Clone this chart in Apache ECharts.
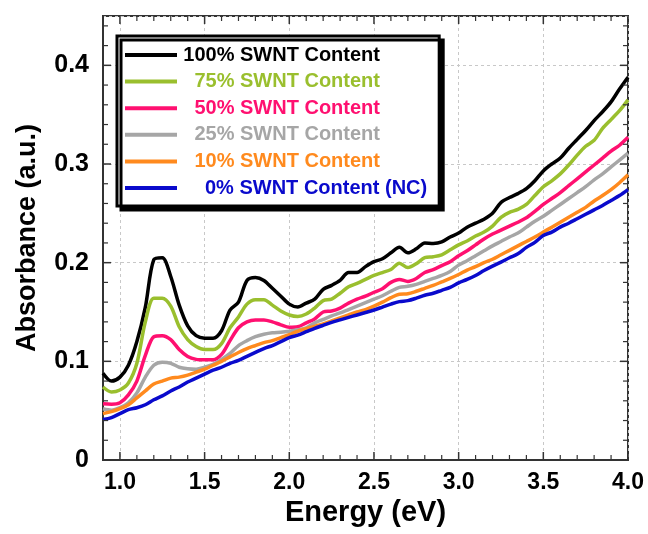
<!DOCTYPE html>
<html>
<head>
<meta charset="utf-8">
<script src="https://cdn.jsdelivr.net/npm/echarts@6/dist/echarts.min.js"></script>
<style>
  html, body { margin: 0; padding: 0; background: #fff; }
  #chart { width: 648px; height: 534px; }
</style>
</head>
<body>
<div id="chart"></div>
<script>
// photon energy (eV), shared by every curve
const energy = [
  0.90, 0.95, 1.00, 1.05, 1.10, 1.15, 1.20, 1.25, 1.30, 1.35,
  1.40, 1.45, 1.50, 1.55, 1.60, 1.65, 1.70, 1.75, 1.80, 1.85,
  1.90, 1.95, 2.00, 2.05, 2.10, 2.15, 2.20, 2.25, 2.30, 2.35,
  2.40, 2.45, 2.50, 2.55, 2.60, 2.65, 2.70, 2.75, 2.80, 2.85,
  2.90, 2.95, 3.00, 3.05, 3.10, 3.15, 3.20, 3.25, 3.30, 3.35,
  3.40, 3.45, 3.50, 3.55, 3.60, 3.65, 3.70, 3.75, 3.80, 3.85,
  3.90, 3.95, 4.00
];

const swnt100 = [
  0.088, 0.080, 0.084, 0.096, 0.120, 0.155, 0.203, 0.205, 0.186, 0.157,
  0.136, 0.126, 0.1235, 0.1235, 0.131, 0.152, 0.160, 0.182, 0.185, 0.182,
  0.174, 0.166, 0.158, 0.155, 0.159, 0.163, 0.173, 0.177, 0.182, 0.190,
  0.190, 0.196, 0.201, 0.204, 0.210, 0.2155, 0.210, 0.214, 0.220, 0.2195,
  0.221, 0.226, 0.230, 0.236, 0.240, 0.244, 0.250, 0.261, 0.266, 0.270,
  0.275, 0.283, 0.293, 0.300, 0.306, 0.316, 0.325, 0.334, 0.344, 0.353,
  0.363, 0.376, 0.388
];
const swnt75 = [
  0.074, 0.069, 0.071, 0.078, 0.098, 0.140, 0.164, 0.164, 0.156, 0.135,
  0.122, 0.115, 0.112, 0.112, 0.118, 0.134, 0.145, 0.158, 0.1625, 0.1625,
  0.157, 0.151, 0.147, 0.1455, 0.148, 0.154, 0.1615, 0.163, 0.169, 0.1755,
  0.179, 0.183, 0.187, 0.190, 0.193, 0.1995, 0.195, 0.199, 0.205, 0.206,
  0.208, 0.213, 0.218, 0.222, 0.227, 0.231, 0.237, 0.246, 0.251, 0.254,
  0.259, 0.268, 0.277, 0.283, 0.290, 0.299, 0.309, 0.318, 0.324, 0.336,
  0.345, 0.354, 0.365
];
const swnt50 = [
  0.057, 0.0565, 0.058, 0.066, 0.080, 0.106, 0.125, 0.126, 0.122, 0.112,
  0.105, 0.102, 0.1015, 0.1015, 0.107, 0.121, 0.134, 0.140, 0.142, 0.142,
  0.140, 0.137, 0.1345, 0.135, 0.139, 0.143, 0.150, 0.151, 0.154, 0.159,
  0.163, 0.166, 0.170, 0.1735, 0.180, 0.183, 0.181, 0.184, 0.190, 0.193,
  0.197, 0.201, 0.207, 0.212, 0.218, 0.224, 0.229, 0.233, 0.237, 0.241,
  0.2455, 0.252, 0.259, 0.265, 0.271, 0.278, 0.285, 0.292, 0.299, 0.306,
  0.313, 0.319, 0.327
];
const swnt25 = [
  0.052, 0.0505, 0.053, 0.058, 0.068, 0.084, 0.096, 0.099, 0.098, 0.094,
  0.0925, 0.092, 0.094, 0.097, 0.102, 0.108, 0.116, 0.121, 0.125, 0.1275,
  0.129, 0.1295, 0.1305, 0.132, 0.134, 0.139, 0.1425, 0.146, 0.149, 0.1525,
  0.156, 0.1595, 0.163, 0.1665, 0.171, 0.175, 0.176, 0.178, 0.181, 0.184,
  0.187, 0.191, 0.1975, 0.202, 0.207, 0.212, 0.217, 0.2215, 0.226, 0.230,
  0.236, 0.242, 0.247, 0.253, 0.259, 0.265, 0.271, 0.277, 0.284, 0.290,
  0.297, 0.304, 0.311
];
const swnt10 = [
  0.047, 0.049, 0.052, 0.056, 0.063, 0.070, 0.077, 0.080, 0.083, 0.084,
  0.086, 0.089, 0.092, 0.096, 0.100, 0.1045, 0.109, 0.113, 0.116, 0.119,
  0.121, 0.124, 0.127, 0.1305, 0.133, 0.1355, 0.138, 0.141, 0.144, 0.147,
  0.150, 0.1525, 0.156, 0.160, 0.1645, 0.168, 0.1685, 0.171, 0.174, 0.177,
  0.1805, 0.184, 0.188, 0.1925, 0.196, 0.200, 0.2035, 0.208, 0.2125, 0.217,
  0.2215, 0.226, 0.231, 0.236, 0.241, 0.246, 0.251, 0.256, 0.2625, 0.268,
  0.274, 0.281, 0.289
];
const swnt0 = [
  0.041, 0.043, 0.047, 0.051, 0.053, 0.056, 0.061, 0.065, 0.070, 0.074,
  0.079, 0.083, 0.087, 0.091, 0.094, 0.098, 0.101, 0.105, 0.109, 0.113,
  0.116, 0.120, 0.124, 0.1265, 0.130, 0.1335, 0.1365, 0.1395, 0.142, 0.1445,
  0.147, 0.1495, 0.152, 0.155, 0.158, 0.1605, 0.1615, 0.164, 0.167, 0.169,
  0.172, 0.175, 0.1795, 0.183, 0.187, 0.192, 0.1965, 0.2005, 0.205, 0.209,
  0.2155, 0.2205, 0.2275, 0.231, 0.236, 0.240, 0.2445, 0.249, 0.2535, 0.258,
  0.263, 0.268, 0.274
];

const seriesNames = [
  '100% SWNT Content',
  '75% SWNT Content',
  '50% SWNT Content',
  '25% SWNT Content',
  '10% SWNT Content',
  '0% SWNT Content (NC)'
];
const seriesValues = [swnt100, swnt75, swnt50, swnt25, swnt10, swnt0];
const seriesColors = ['#000000', '#9abf2e', '#ff1070', '#a6a6a6', '#ff8a1e', '#0a0acc'];

// tick positions on the frame (major = labelled)
const xMajorTicks = [1.0, 1.5, 2.0, 2.5, 3.0, 3.5, 4.0];
const xMinorTicks = [1.1, 1.2, 1.3, 1.4, 1.6, 1.7, 1.8, 1.9, 2.1, 2.2, 2.3, 2.4,
  2.6, 2.7, 2.8, 2.9, 3.1, 3.2, 3.3, 3.4, 3.6, 3.7, 3.8, 3.9];
const yMajorTicks = [0, 0.1, 0.2, 0.3, 0.4];
const yMinorTicks = [0.02, 0.04, 0.06, 0.08, 0.12, 0.14, 0.16, 0.18, 0.22, 0.24, 0.26, 0.28,
  0.32, 0.34, 0.36, 0.38, 0.42, 0.44];

const X_MIN = 0.9, X_MAX = 4.0, Y_MIN = 0, Y_MAX = 0.45;
const FONT = 'Liberation Sans, Arial, sans-serif';
const AXIS_COLOR = '#333';

const chart = echarts.init(document.getElementById('chart'));

// legend text: "Content" lines up on the right, "(NC)" hangs past it
const rich = {};
seriesColors.forEach((c, i) => {
  rich['c' + i] = { color: c, width: 198, align: 'right', fontSize: 20, fontWeight: 'bold', fontFamily: FONT, lineHeight: 22 };
});
rich.sp = { width: 23, fontSize: 20, lineHeight: 22 };
rich.nc = { color: seriesColors[5], fontSize: 20, fontWeight: 'bold', fontFamily: FONT, lineHeight: 22 };

// [value, major?, isX?]
const tickData = []
  .concat(xMajorTicks.map(v => [v, 1, 1]))
  .concat(xMinorTicks.map(v => [v, 0, 1]))
  .concat(yMajorTicks.map(v => [v, 1, 0]))
  .concat(yMinorTicks.map(v => [v, 0, 0]));

// inward ticks on all four sides, placed through the chart's own scales
function renderTick(params, api) {
  const cs = params.coordSys;
  const v = api.value(0);
  const major = api.value(1) === 1;
  const isX = api.value(2) === 1;
  const len = major ? 8 : 5;
  const style = { stroke: AXIS_COLOR, lineWidth: major ? 1.5 : 1.2 };
  let a, b;
  if (isX) {
    const px = api.coord([v, Y_MIN])[0];
    const bottom = cs.y + cs.height, top = cs.y;
    a = { x1: px, y1: bottom, x2: px, y2: bottom - len };
    b = { x1: px, y1: top, x2: px, y2: top + len };
  } else {
    const py = api.coord([X_MIN, v])[1];
    const left = cs.x, right = cs.x + cs.width;
    a = { x1: left, y1: py, x2: left + len, y2: py };
    b = { x1: right, y1: py, x2: right - len, y2: py };
  }
  return {
    type: 'group',
    children: [
      { type: 'line', shape: a, style: style },
      { type: 'line', shape: b, style: style }
    ]
  };
}

const lineSeries = seriesNames.map((name, k) => ({
  name: name,
  type: 'line',
  showSymbol: false,
  smooth: 0.3,
  color: seriesColors[k],
  lineStyle: { width: 3.5, color: seriesColors[k] },
  data: energy.map((e, i) => [e, seriesValues[k][i]])
}));

chart.setOption({
  animation: false,
  backgroundColor: '#fff',
  grid: { left: 103, right: 20, top: 16, bottom: 74, show: true, borderColor: AXIS_COLOR, borderWidth: 2, backgroundColor: 'transparent' },
  legend: {
    orient: 'vertical',
    left: 117,
    top: 36,
    icon: 'rect',
    itemWidth: 52,
    itemHeight: 4,
    itemGap: 6.6,
    padding: [9, 12, 8, 8],
    backgroundColor: '#fff',
    borderColor: '#000',
    borderWidth: 3,
    shadowColor: '#000',
    shadowBlur: 0,
    shadowOffsetX: 4,
    shadowOffsetY: 4,
    data: seriesNames,
    textStyle: { fontFamily: FONT, fontWeight: 'bold', fontSize: 20, rich: rich },
    formatter: function (name) {
      const i = seriesNames.indexOf(name);
      if (i === 5) return '{sp| }{nc|' + name + '}';
      return '{c' + i + '|' + name + '}';
    }
  },
  xAxis: {
    type: 'value',
    min: X_MIN,
    max: X_MAX,
    splitNumber: 6,
    name: 'Energy (eV)',
    nameLocation: 'middle',
    nameGap: 38,
    nameTextStyle: { fontFamily: FONT, fontWeight: 'bold', fontSize: 29, color: '#000' },
    axisLine: { show: true, onZero: false, lineStyle: { color: AXIS_COLOR, width: 2 } },
    axisTick: { show: false },
    axisLabel: {
      showMinLabel: false,
      margin: 11,
      fontFamily: FONT, fontWeight: 'bold', fontSize: 23, color: '#000',
      formatter: v => (v < 0.95 ? '' : v.toFixed(1))
    },
    splitLine: { show: true, lineStyle: { color: '#c8c8c8', type: [3, 3], width: 1 } }
  },
  yAxis: {
    type: 'value',
    min: Y_MIN,
    max: Y_MAX,
    interval: 0.1,
    name: 'Absorbance (a.u.)',
    nameLocation: 'middle',
    nameGap: 62,
    nameTextStyle: { fontFamily: FONT, fontWeight: 'bold', fontSize: 27, color: '#000' },
    axisLine: { show: true, onZero: false, lineStyle: { color: AXIS_COLOR, width: 2 } },
    axisTick: { show: false },
    axisLabel: {
      showMaxLabel: false,
      margin: 14,
      fontFamily: FONT, fontWeight: 'bold', fontSize: 25, color: '#000',
      formatter: v => (v > 0.42 ? '' : v === 0 ? '0' : v.toFixed(1))
    },
    splitLine: { show: true, lineStyle: { color: '#c8c8c8', type: [3, 3], width: 1 } }
  },
  series: lineSeries.concat([{
    name: 'ticks',
    type: 'custom',
    silent: true,
    clip: false,
    z: 5,
    renderItem: renderTick,
    encode: { x: 0 },
    data: tickData
  }])
});
</script>
</body>
</html>
